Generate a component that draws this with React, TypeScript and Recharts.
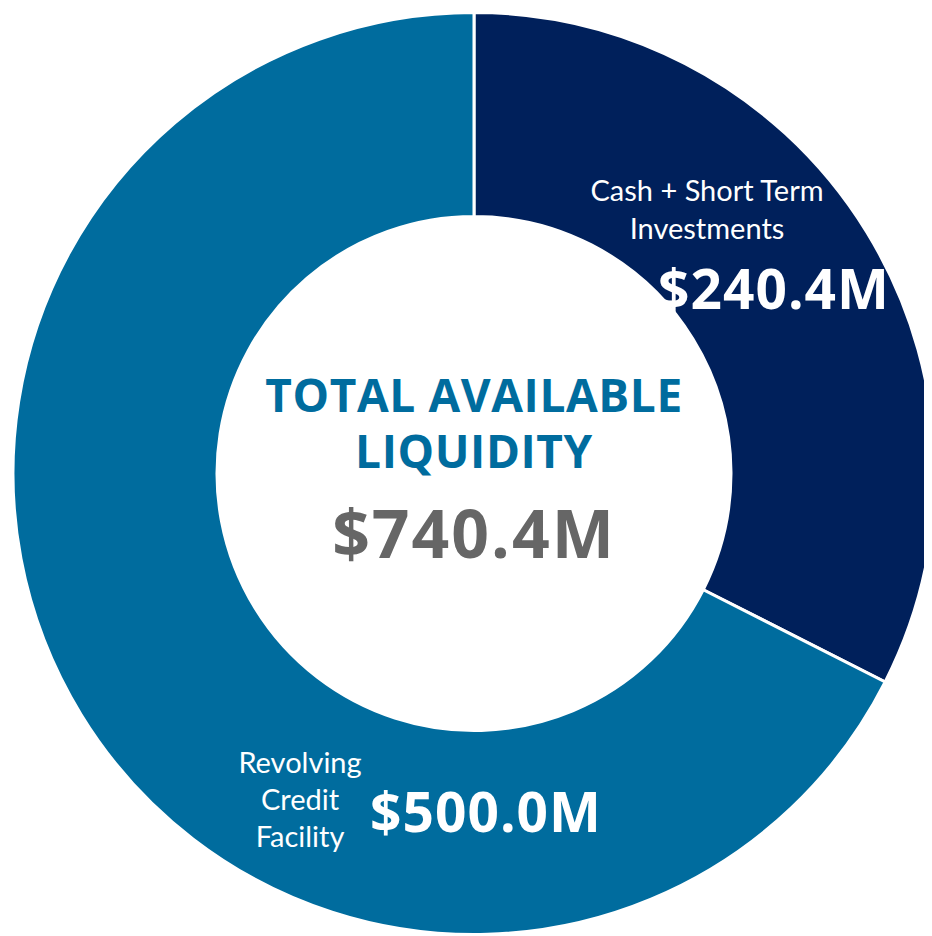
import React from "react";
import { PieChart, Pie, Cell } from "recharts";

const categories = ["Cash + Short Term Investments", "Revolving Credit Facility"];
const values = [240.4, 500.0];
const valueLabels = ["$240.4M", "$500.0M"];
const nameLines = [["Cash + Short Term", "Investments"], ["Revolving", "Credit", "Facility"]];
const centerTitle = ["TOTAL AVAILABLE", "LIQUIDITY"];
const centerValue = "$740.4M";

const colors = ["#00205B", "#006C9E"];

const data = categories.map((name, i) => ({ name, value: values[i] }));

const valueFont = "'Open Sans', sans-serif";

// layout offsets relative to the pie centre
const nameLayout = [
  { dx: 233, dy: -284, step: 38 },
  { dx: -174, dy: 288, step: 37 },
];
const valueLayout = [
  { dx: 300, dy: -186 },
  { dx: 12, dy: 337 },
];

const renderCenter = (cx: number, cy: number) => (
  <g key="center">
    <text
      x={cx}
      y={cy - 80}
      textAnchor="middle"
      dominantBaseline="central"
      fill="#006C9E"
      fontFamily="'Open Sans', sans-serif"
      fontWeight={700}
      fontSize={46}
      letterSpacing={0.6}
    >
      {centerTitle[0]}
    </text>
    <text
      x={cx}
      y={cy - 24}
      textAnchor="middle"
      dominantBaseline="central"
      fill="#006C9E"
      fontFamily="'Open Sans', sans-serif"
      fontWeight={700}
      fontSize={46}
      letterSpacing={0.6}
    >
      {centerTitle[1]}
    </text>
    <text
      x={cx}
      y={cy + 58}
      textAnchor="middle"
      dominantBaseline="central"
      fill="#666666"
      fontFamily={valueFont}
      fontWeight={700}
      fontSize={66}
      letterSpacing={2}
    >
      {centerValue}
    </text>
  </g>
);

const renderLabel = (props: any) => {
  const { cx, cy, index } = props;
  const nl = nameLayout[index];
  const vl = valueLayout[index];
  return (
    <g key={`lab-${index}`}>
      {index === 0 ? renderCenter(cx, cy) : null}
      {nameLines[index].map((line, j) => (
        <text
          key={j}
          x={cx + nl.dx}
          y={cy + nl.dy + j * nl.step}
          textAnchor="middle"
          dominantBaseline="central"
          fill="#FFFFFF"
          fontFamily="Lato, 'Open Sans', sans-serif"
          fontSize={29}
        >
          {line}
        </text>
      ))}
      <text
        x={cx + vl.dx}
        y={cy + vl.dy}
        textAnchor="middle"
        dominantBaseline="central"
        fill="#FFFFFF"
        fontFamily={valueFont}
        fontWeight={700}
        fontSize={55}
        letterSpacing={1}
      >
        {valueLabels[index]}
      </text>
    </g>
  );
};

export default function App() {
  return (
    <div style={{ width: 932, height: 936, position: "relative", margin: "-8px 0 0 -8px" }}>
      <PieChart width={932} height={936} margin={{ top: 0, right: 0, bottom: 0, left: 0 }}>
        <Pie
          data={data}
          dataKey="value"
          nameKey="name"
          cx={474}
          cy={473.5}
          innerRadius={257}
          outerRadius={461}
          startAngle={90}
          endAngle={-270}
          stroke="#FFFFFF"
          strokeWidth={3}
          label={renderLabel}
          labelLine={false}
          isAnimationActive={false}
        >
          {data.map((d, i) => (
            <Cell key={d.name} fill={colors[i]} />
          ))}
        </Pie>
      </PieChart>
    </div>
  );
}
